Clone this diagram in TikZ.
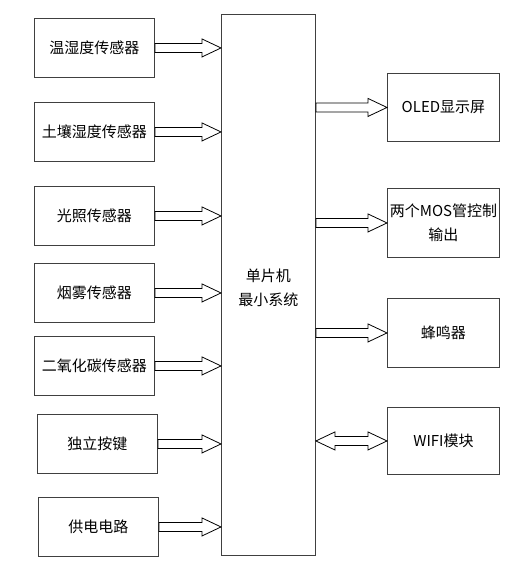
\documentclass[tikz,border=0pt]{standalone}
\usepackage{fontspec}
\setmainfont{Noto Sans CJK SC}
\usetikzlibrary{positioning,calc}
\definecolor{boxgray}{rgb}{0.25,0.25,0.25}
\tikzset{
    box/.style={draw=boxgray, line width=0.9pt, anchor=north west, align=center, inner sep=1pt,
        minimum width=120pt, minimum height=59pt, font=\fontsize{15}{24}\selectfont},
    outbox/.style={box, minimum width=112pt, minimum height=68pt},
    hollow/.style={draw, line width=0.8pt, to path={let \p1=(\tikztostart), \p2=(\tikztotarget) in
        (\x1,\y1+4.5pt) -- (\x2-19pt,\y1+4.5pt) -- (\x2-19pt,\y1+9pt) -- (\x2,\y1)
        -- (\x2-19pt,\y1-9pt) -- (\x2-19pt,\y1-4.5pt) -- (\x1,\y1-4.5pt) -- cycle}},
    hollowboth/.style={draw, line width=0.8pt, to path={let \p1=(\tikztostart), \p2=(\tikztotarget) in
        (\x1,\y1) -- (\x1+19pt,\y1+9pt) -- (\x1+19pt,\y1+4.5pt) -- (\x2-19pt,\y1+4.5pt)
        -- (\x2-19pt,\y1+9pt) -- (\x2,\y1) -- (\x2-19pt,\y1-9pt) -- (\x2-19pt,\y1-4.5pt)
        -- (\x1+19pt,\y1-4.5pt) -- (\x1+19pt,\y1-9pt) -- cycle}}
}

\begin{document}
\begin{tikzpicture}[x=1pt, y=-1pt]
        \useasboundingbox (0,0) rectangle (527,580);
        % sensors and inputs
        \node[box] (temp) at (34,18) {温湿度传感器};
        \node[box] (soil) at (34,102) {土壤湿度传感器};
        \node[box] (light) at (34,186) {光照传感器};
        \node[box] (smoke) at (34,263) {烟雾传感器};
        \node[box] (co2) at (34,336) {二氧化碳传感器};
        \node[box] (key) at (37,414) {独立按键};
        \node[box] (power) at (38,497) {供电电路};
        % controller
        \node[box, minimum width=94pt, minimum height=541pt] (mcu) at (221,14) {};
        \node[font=\fontsize{15}{24}\selectfont, align=center, below=251pt of mcu.north] (mcutext) {单片机\\最小系统};
        % outputs
        \node[outbox] (oled) at (387,73) {OLED显示屏};
        \node[outbox, minimum height=69pt] (mos) at (387,188) {两个MOS管控制\\输出};
        \node[outbox, minimum height=69pt] (buzzer) at (387,298) {蜂鸣器};
        \node[outbox, minimum height=67pt] (wifi) at (387,407) {WIFI模块};
        % arrows
        \draw[hollow] (temp.east) to (mcu.west |- temp.east);
        \draw[hollow] (soil.east) to (mcu.west |- soil.east);
        \draw[hollow] (light.east) to (mcu.west |- light.east);
        \draw[hollow] (smoke.east) to (mcu.west |- smoke.east);
        \draw[hollow] (co2.east) to (mcu.west |- co2.east);
        \draw[hollow] (key.east) to (mcu.west |- key.east);
        \draw[hollow] (power.east) to (mcu.west |- power.east);
        \draw[hollow] (mcu.east |- oled.west) to (oled.west);
        \draw[hollow] (mcu.east |- mos.west) to (mos.west);
        \draw[hollow] (mcu.east |- buzzer.west) to (buzzer.west);
        \draw[hollowboth] (mcu.east |- wifi.west) to (wifi.west);
    \end{tikzpicture}
\end{document}
